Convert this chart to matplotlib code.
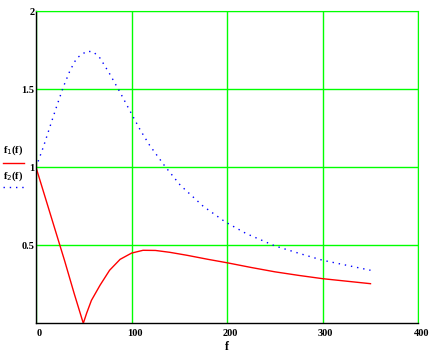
import matplotlib
matplotlib.use("Agg")
import matplotlib.pyplot as plt
import matplotlib.transforms as mtransforms
from matplotlib.lines import Line2D

# values
f1_x = [0, 10, 20, 30, 40, 49.5, 53, 58, 67, 77, 88, 100, 112, 125, 140,
        158, 180, 200, 225, 250, 275, 300, 325, 350]
f1_y = [1.0, 0.8, 0.6, 0.4, 0.19, 0.0, 0.065, 0.147, 0.244, 0.34, 0.41, 0.45,
        0.468, 0.467, 0.455, 0.436, 0.41, 0.388, 0.358, 0.33, 0.307, 0.286,
        0.27, 0.254]

f2_x = [0, 7.7, 14.6, 21.6, 28.6, 35.6, 42.6, 53, 60, 67, 77, 88, 98, 109,
        119, 135, 151, 175, 198, 220, 250, 276, 300, 325, 350]
f2_y = [1.0, 1.13, 1.26, 1.39, 1.515, 1.62, 1.70, 1.744, 1.74, 1.70, 1.60,
        1.48, 1.365, 1.24, 1.14, 1.006, 0.885, 0.75, 0.65, 0.575, 0.496,
        0.447, 0.404, 0.372, 0.34]

x_ticks = [0, 100, 200, 300, 400]
y_ticks = [0.5, 1, 1.5, 2]
y_labels = ["0.5", "1", "1.5", "2"]

GREEN = "#00ff00"
FONT = dict(family="Liberation Serif", weight="bold", size=7.5)
DOTS = (0, (1, 3.5))

fig = plt.figure(figsize=(4.31, 3.52), dpi=100)
ax = fig.add_axes([0.0835, 0.0815, 0.887, 0.8865])

ax.plot(f1_x, f1_y, color="red", lw=1.0)
ax.plot(f2_x, f2_y, color="blue", lw=1.0, linestyle=DOTS)

ax.set_xlim(0, 400)
ax.set_ylim(0, 2)
ax.set_xticks(x_ticks)
ax.set_yticks(y_ticks)
ax.set_xticklabels([str(t) for t in x_ticks], fontdict=FONT)
ax.set_yticklabels(y_labels, fontdict=FONT)
ax.tick_params(length=0, pad=1)
ax.tick_params(axis="x", pad=4)
shift = mtransforms.ScaledTranslation(3 / 100, 0, fig.dpi_scale_trans)
for lbl in ax.get_xticklabels():
    lbl.set_transform(lbl.get_transform() + shift)

ax.grid(True, color=GREEN, lw=1.0)
ax.set_axisbelow(True)
for side in ("top", "right"):
    ax.spines[side].set_color(GREEN)
for side in ("left", "bottom"):
    ax.spines[side].set_color("black")
    ax.spines[side].set_linewidth(1.0)

ax.set_xlabel("f", fontdict=dict(FONT, size=8.5), labelpad=2)

# legend to the left of the plot, as in the original
fig.text(0.008, 0.565, r"f$_1$(f)", **FONT)
fig.add_artist(Line2D([0.008, 0.055], [0.538, 0.538], color="red", lw=1.0,
                      transform=fig.transFigure))
fig.text(0.008, 0.493, r"f$_2$(f)", **FONT)
fig.add_artist(Line2D([0.008, 0.055], [0.47, 0.47], color="blue", lw=1.0,
                      linestyle=DOTS, transform=fig.transFigure))

fig.savefig("out.png", dpi=100)
